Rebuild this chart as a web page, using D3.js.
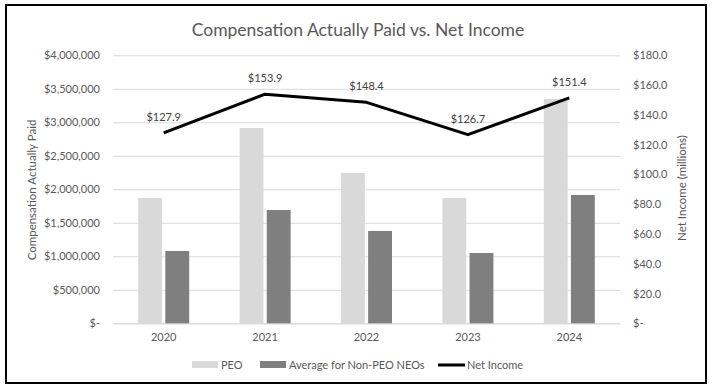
<!DOCTYPE html>
<html>
<head>
<meta charset="utf-8">
<script src="https://cdn.jsdelivr.net/npm/d3@7"></script>
<style>
  body { margin: 0; background: #fff; }
  text { font-family: Lato, "Open Sans", sans-serif; fill: #595959; }
</style>
</head>
<body>
<script>
// Data
const years = ["2020", "2021", "2022", "2023", "2024"];
const peo = [1870000, 2915000, 2243000, 1870000, 3348000];
const nonPeo = [1079000, 1691000, 1378000, 1049000, 1915000];
const netIncome = [127.9, 153.9, 148.4, 126.7, 151.4];
const leftTicks = [0, 500000, 1000000, 1500000, 2000000, 2500000, 3000000, 3500000, 4000000];
const rightTicks = [0, 20, 40, 60, 80, 100, 120, 140, 160, 180];

const W = 716, H = 391;
const margin = {top: 55.3, right: 96, bottom: 67.7, left: 113};
const width = W - margin.left - margin.right,
      height = H - margin.top - margin.bottom;

const svg = d3.select("body").append("svg")
              .attr("width", W)
              .attr("height", H);

// chart border
svg.append("rect")
   .attr("x", 6).attr("y", 5)
   .attr("width", 700).attr("height", 378)
   .attr("fill", "none")
   .attr("stroke", "#000")
   .attr("stroke-width", 2);

svg.append("text")
   .attr("x", 358).attr("y", 36)
   .attr("text-anchor", "middle")
   .attr("font-size", 17.5)
   .text("Compensation Actually Paid vs. Net Income");

const g = svg.append("g")
             .attr("transform", `translate(${margin.left},${margin.top})`);

let xScale = d3.scaleBand().domain(years).range([0, width]);
let xInner = d3.scaleBand().domain(["peo", "non"])
               .range([0, 51]).paddingInner(0.12);
let yLeft = d3.scaleLinear().domain([0, 4000000]).range([height, 0]);
let yRight = d3.scaleLinear().domain([0, 180]).range([height, 0]);

// gridlines
g.append("g")
 .call(d3.axisLeft(yLeft).tickValues(leftTicks).tickSize(-width).tickFormat(""))
 .call(a => a.select(".domain").remove())
 .call(a => a.selectAll(".tick line").attr("stroke", "#d9d9d9"));

// left axis labels
const fmtLeft = d => d === 0 ? "$-" : "$" + d3.format(",")(d);
g.append("g")
 .call(d3.axisLeft(yLeft).tickValues(leftTicks).tickSize(0).tickPadding(13).tickFormat(fmtLeft))
 .call(a => a.select(".domain").remove())
 .call(a => a.selectAll(".tick text").attr("font-size", 11).attr("fill", "#595959")
              .style("font-family", "Lato, sans-serif"));

// right axis labels
const fmtRight = d => d === 0 ? "$-" : "$" + d3.format(".1f")(d);
g.append("g")
 .attr("transform", `translate(${width},0)`)
 .call(d3.axisRight(yRight).tickValues(rightTicks).tickSize(0).tickPadding(13).tickFormat(fmtRight))
 .call(a => a.select(".domain").remove())
 .call(a => a.selectAll(".tick text").attr("font-size", 11).attr("fill", "#595959")
              .style("font-family", "Lato, sans-serif"));

// x axis
g.append("g")
 .attr("transform", `translate(0,${height})`)
 .call(d3.axisBottom(xScale).tickSize(0).tickPadding(10))
 .call(a => a.select(".domain").attr("stroke", "#d9d9d9"))
 .call(a => a.selectAll(".tick text").attr("font-size", 11).attr("fill", "#595959")
              .style("font-family", "Lato, sans-serif"));

// bars
const groups = g.selectAll(".year")
  .data(years)
  .join("g")
  .attr("transform", d => `translate(${xScale(d) + xScale.bandwidth() / 2 - 25.5},0)`);

groups.append("rect")
  .attr("x", xInner("peo"))
  .attr("width", xInner.bandwidth())
  .attr("y", (d, i) => yLeft(peo[i]))
  .attr("height", (d, i) => height - yLeft(peo[i]))
  .attr("fill", "#d9d9d9");

groups.append("rect")
  .attr("x", xInner("non"))
  .attr("width", xInner.bandwidth())
  .attr("y", (d, i) => yLeft(nonPeo[i]))
  .attr("height", (d, i) => height - yLeft(nonPeo[i]))
  .attr("fill", "#7f7f7f");

// net income line
const line = d3.line()
  .x((d, i) => xScale(years[i]) + xScale.bandwidth() / 2)
  .y(d => yRight(d));

g.append("path")
 .datum(netIncome)
 .attr("d", line)
 .attr("fill", "none")
 .attr("stroke", "#000")
 .attr("stroke-width", 3)
 .attr("stroke-linejoin", "round");

g.selectAll(".lbl")
 .data(netIncome)
 .join("text")
 .attr("x", (d, i) => xScale(years[i]) + xScale.bandwidth() / 2)
 .attr("y", d => yRight(d) - 12)
 .attr("text-anchor", "middle")
 .attr("font-size", 11)
 .style("fill", "#404040")
 .text(d => "$" + d3.format(".1f")(d));

// axis titles
svg.append("text")
   .attr("transform", "translate(36,190) rotate(-90)")
   .attr("text-anchor", "middle")
   .attr("font-size", 11.5)
   .text("Compensation Actually Paid");

svg.append("text")
   .attr("transform", "translate(686,188) rotate(-90)")
   .attr("text-anchor", "middle")
   .attr("font-size", 11.5)
   .text("Net Income (millions)");

// legend
const legend = svg.append("g").attr("transform", "translate(0,365)");
const legendItems = [
  {label: "PEO", x: 192, type: "rect", color: "#d9d9d9"},
  {label: "Average for Non-PEO NEOs", x: 260, type: "rect", color: "#7f7f7f"},
  {label: "Net Income", x: 438, type: "line", color: "#000"}
];
legendItems.forEach(it => {
  if (it.type === "rect") {
    legend.append("rect").attr("x", it.x).attr("y", -4).attr("width", 26).attr("height", 7).attr("fill", it.color);
  } else {
    legend.append("line").attr("x1", it.x).attr("x2", it.x + 27).attr("y1", 0).attr("y2", 0)
          .attr("stroke", it.color).attr("stroke-width", 3);
  }
  legend.append("text").attr("x", it.x + 29).attr("y", 4).attr("font-size", 11).text(it.label);
});
</script>
</body>
</html>
